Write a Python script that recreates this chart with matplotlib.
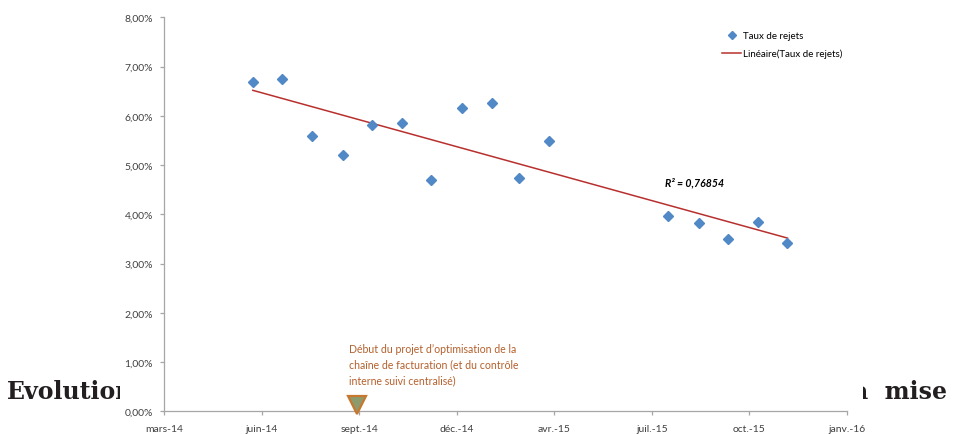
import datetime as dt
import matplotlib
matplotlib.use('Agg')
import matplotlib.pyplot as plt
import matplotlib.dates as mdates
import numpy as np
from matplotlib.patches import Rectangle
from matplotlib.ticker import FuncFormatter

plt.rcParams['font.family'] = ['Lato', 'DejaVu Sans']

# monthly reject rate (%), end of month
months = ['2014-05-31', '2014-06-30', '2014-07-31', '2014-08-31', '2014-09-30',
          '2014-10-31', '2014-11-30', '2014-12-31', '2015-01-31', '2015-02-28',
          '2015-03-31', '2015-07-31', '2015-08-31', '2015-09-30', '2015-10-31',
          '2015-11-30']
taux = [6.69, 6.75, 5.58, 5.20, 5.81, 5.85, 4.69, 6.16, 6.26, 4.74, 5.48,
        3.97, 3.83, 3.50, 3.84, 3.41]

tick_labels = ['mars-14', 'juin-14', 'sept.-14', 'déc.-14', 'avr.-15',
               'juil.-15', 'oct.-15', 'janv.-16']
axis_start = dt.datetime(2014, 3, 1)
tick_step = 100  # days between date ticks

event_date = dt.datetime(2014, 9, 15)
event_level = 0.13
event_text = ("Début du projet d’optimisation de la\n"
              "chaîne de facturation (et du contrôle\n"
              "interne suivi centralisé)")
r2_text = 'R² = 0,76854'
r2_pos = (dt.datetime(2015, 7, 27), 4.66)

dates = [dt.datetime.strptime(m, '%Y-%m-%d') for m in months]
x = mdates.date2num(dates)
slope, intercept = np.polyfit(x, taux, 1)
trend_x = np.array([x[0], x[-1]])
trend_y = slope * trend_x + intercept

fig = plt.figure(figsize=(9.55, 4.35), dpi=100)

# page heading sitting behind the chart
fig.text(7 / 955, 36 / 435, 'Evolution', family='DejaVu Serif', weight='bold',
         fontsize=17, color='#231f20', va='baseline', ha='left', zorder=-3)
fig.text(947 / 955, 36 / 435, 'la  mise', family='DejaVu Serif', weight='bold',
         fontsize=17, color='#231f20', va='baseline', ha='right', zorder=-3)
fig.add_artist(Rectangle((120 / 955, 0), (863 - 120) / 955, 1,
                         transform=fig.transFigure, facecolor='white',
                         edgecolor='none', zorder=-1))

ax = fig.add_axes([164 / 955, 22.7 / 435, 683 / 955, 394 / 435])
ax.patch.set_alpha(0)

ax.plot(dates, taux, linestyle='none', marker='D', markersize=5,
        color='#5089c6', label='Taux de rejets', zorder=3)
ax.plot(mdates.num2date(trend_x), trend_y, color='#b8302e', linewidth=1.1,
        label='Linéaire(Taux de rejets)', zorder=2)

ax.plot([event_date], [event_level], marker='v', markersize=13.5,
        markerfacecolor='#8c9a6c', markeredgecolor='#c8782e',
        markeredgewidth=1.6, clip_on=False, zorder=4)
ax.annotate(event_text, xy=(mdates.date2num(event_date), 0),
            xytext=(-6, 18.5), textcoords='offset points', fontsize=7.6,
            color='#b5602c', ha='left', va='bottom', linespacing=1.55)

ax.text(mdates.date2num(r2_pos[0]), r2_pos[1], r2_text, fontsize=7.6,
        weight='bold', style='italic', color='black', va='center')

start = mdates.date2num(axis_start)
ticks = [start + k * tick_step for k in range(len(tick_labels))]
ax.set_xlim(ticks[0], ticks[-1])
ax.set_xticks(ticks)
ax.set_xticklabels(tick_labels)
ax.set_ylim(0, 8)
ax.set_yticks(np.arange(0, 9, 1))
ax.yaxis.set_major_formatter(
    FuncFormatter(lambda v, p: f'{v:.2f}'.replace('.', ',') + '%'))

for side in ['top', 'right']:
    ax.spines[side].set_visible(False)
for side in ['left', 'bottom']:
    ax.spines[side].set_color('#a6a6a6')
    ax.spines[side].set_linewidth(0.9)
ax.tick_params(axis='both', direction='out', length=3, width=0.9,
               color='#a6a6a6', labelsize=7.5, labelcolor='#404040')
ax.tick_params(axis='x', pad=6.5)
ax.tick_params(axis='y', pad=5)

ax.legend(loc='upper left', bbox_to_anchor=(722 / 955, 1 - 32 / 435),
          bbox_transform=fig.transFigure, frameon=False, fontsize=7,
          numpoints=1, handlelength=2.0, handletextpad=0.2, borderpad=0,
          borderaxespad=0, labelspacing=0.9, markerscale=0.8)

fig.savefig('out.png', dpi=100)
